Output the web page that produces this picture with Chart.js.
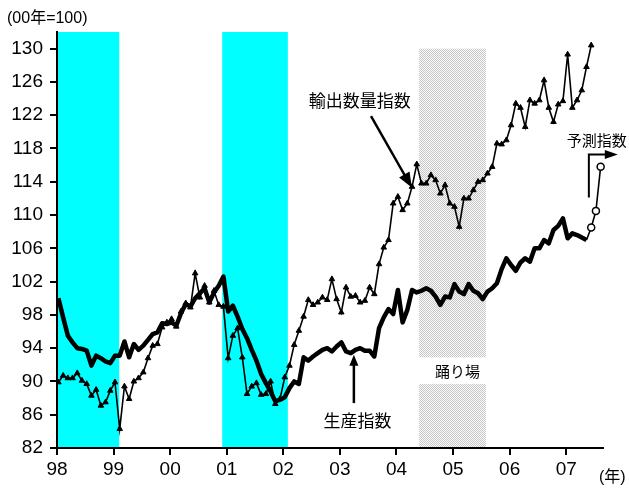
<!DOCTYPE html>
<html>
<head>
<meta charset="utf-8">
<script src="https://cdn.jsdelivr.net/npm/chart.js@4"></script>
<style>
  body { margin: 0; background: #fff; }
</style>
</head>
<body>
<canvas id="chart" width="629" height="489"></canvas>
<script>
// x axis: one tick per year, label is the two-digit year
const yearLabels = ['98', '99', '00', '01', '02', '03', '04', '05', '06', '07'];
const yTicks = [82, 86, 90, 94, 98, 102, 106, 110, 114, 118, 122, 126, 130];

// monthly, Jan 1998 onwards (00年=100)
const exportIndex = [
  89.9, 90.7, 90.4, 90.4, 91.0, 90.1, 89.7, 88.3, 89.0, 87.1, 87.5, 88.9,
  89.9, 84.3, 89.4, 87.9, 90.0, 90.4, 91.1, 92.8, 94.3, 94.5, 96.5, 97.1,
  97.5, 96.6, 98.4, 99.4, 98.9, 103.0, 100.1, 101.5, 99.5, 100.9, 99.2, 99.0,
  92.8, 95.5, 96.4, 92.9, 88.5, 89.4, 89.8, 88.4, 88.5, 90.0, 87.3, 87.9,
  90.5, 91.9, 94.4, 96.1, 97.8, 99.8, 99.2, 99.5, 100.1, 99.8, 102.3, 99.9,
  98.3, 101.3, 100.2, 100.3, 99.5, 99.7, 101.3, 100.5, 104.1, 106.1, 107.0, 111.4,
  112.2, 110.6, 111.4, 113.4, 116.1, 113.8, 113.8, 114.8, 114.2, 112.6, 113.6, 111.4,
  111.0, 108.6, 112.0, 112.0, 113.0, 114.0, 114.2, 115.0, 115.8, 118.6, 118.5, 119.0,
  120.8, 123.4, 122.9, 120.6, 123.8, 123.4, 123.8, 126.2, 122.9, 121.2, 123.3, 123.7,
  129.3, 122.9, 123.8, 125.0, 127.8, 130.4
];
const productionIndex = [
  100.0, 97.7, 95.5, 94.7, 94.0, 93.9, 93.7, 91.9, 93.1, 92.8, 92.4, 92.2,
  93.1, 93.1, 94.8, 92.9, 94.5, 93.8, 94.3, 95.0, 95.7, 95.9, 97.0, 96.9,
  97.1, 96.7, 98.2, 99.3, 99.0, 100.0, 100.6, 101.2, 99.5, 100.7, 101.5, 102.6,
  98.4, 99.1, 97.8, 96.3, 95.2, 93.8, 92.5, 90.9, 89.8, 88.8, 87.6, 87.8,
  88.1, 89.2, 90.0, 89.7, 92.9, 92.5, 93.0, 93.4, 93.8, 94.0, 93.6, 94.2,
  94.7, 93.6, 93.4, 93.8, 94.0, 93.7, 93.7, 93.0, 96.4, 97.7, 98.7, 98.1,
  101.0, 97.1, 98.6, 101.0, 100.7, 100.9, 101.2, 100.9, 100.2, 99.2, 100.2, 100.1,
  101.7, 100.8, 100.5, 101.7, 100.9, 100.6, 99.9, 100.8, 101.2, 101.8, 103.5, 104.8,
  104.0, 103.3, 104.3, 104.8, 104.4, 106.0, 106.0, 107.0, 106.6, 108.2, 108.7, 109.6,
  107.2, 107.8, 107.6, 107.3, 107.0
];
// 予測指数: the three months after the last production figure
const forecastIndex = [108.5, 110.5, 115.8];

// shaded periods, in years
const recessions = [[1998.0, 1999.1], [2000.92, 2002.08]];
const plateau = [2004.4, 2005.58];

function monthX(i) {
  return 1998 + (i + 0.3) / 12;
}

const lastProd = productionIndex.length - 1;
const forecastData = [{ x: monthX(lastProd), y: productionIndex[lastProd] }]
  .concat(forecastIndex.map((v, i) => ({ x: monthX(lastProd + 1 + i), y: v })));

const numFont = "'Liberation Sans', Arial, sans-serif";
const jpFont = "'Noto Sans CJK JP', sans-serif";

function makeDots() {
  const c = document.createElement('canvas');
  c.width = 2; c.height = 2;
  const g = c.getContext('2d');
  g.fillStyle = '#fbfbfb';
  g.fillRect(0, 0, 2, 2);
  g.fillStyle = '#c6c6c6';
  g.fillRect(0, 0, 1, 1);
  g.fillRect(1, 1, 1, 1);
  return c;
}

const shading = {
  id: 'shading',
  beforeDraw(chart) {
    const { ctx, chartArea: a, scales: { x, y } } = chart;
    ctx.save();
    ctx.fillStyle = '#00ffff';
    recessions.forEach(([s, e]) => {
      const x0 = x.getPixelForValue(s), x1 = x.getPixelForValue(e);
      ctx.fillRect(x0, a.top, x1 - x0, a.bottom - a.top);
    });
    ctx.fillStyle = ctx.createPattern(makeDots(), 'repeat');
    const p0 = x.getPixelForValue(plateau[0]), p1 = x.getPixelForValue(plateau[1]);
    const top = y.getPixelForValue(130), gapTop = y.getPixelForValue(92.9);
    const gapBot = y.getPixelForValue(89.7), bot = y.getPixelForValue(82);
    ctx.fillRect(p0, top, p1 - p0, gapTop - top);
    ctx.fillRect(p0, gapBot, p1 - p0, bot - gapBot);
    ctx.restore();
  }
};

function arrowHead(ctx, x0, y0, x1, y1, len, half) {
  const ang = Math.atan2(y1 - y0, x1 - x0);
  ctx.beginPath();
  ctx.moveTo(x1, y1);
  ctx.lineTo(x1 - len * Math.cos(ang) + half * Math.sin(ang), y1 - len * Math.sin(ang) - half * Math.cos(ang));
  ctx.lineTo(x1 - len * Math.cos(ang) - half * Math.sin(ang), y1 - len * Math.sin(ang) + half * Math.cos(ang));
  ctx.closePath();
  ctx.fill();
}

const notes = {
  id: 'notes',
  afterDraw(chart) {
    const { ctx, chartArea: a, scales: { x, y } } = chart;
    const px = v => x.getPixelForValue(v), py = v => y.getPixelForValue(v);
    ctx.save();
    ctx.fillStyle = '#000';
    ctx.strokeStyle = '#000';
    ctx.textBaseline = 'middle';

    ctx.font = '16px ' + numFont + ", 'Noto Sans CJK JP'";
    ctx.textAlign = 'left';
    ctx.fillText('(00年=100)', 7, 19);
    ctx.fillText('(年)', 599, 478);

    ctx.textAlign = 'center';
    ctx.font = '17px ' + jpFont;
    ctx.fillText('輸出数量指数', px(2003.35), py(123.8));
    ctx.fillText('生産指数', px(2003.31), py(85.3));
    ctx.font = '15px ' + jpFont;
    ctx.fillText('予測指数', px(2007.54), py(119.0));
    ctx.fillText('踊り場', px(2005.08), py(91.2));

    // 輸出数量指数 arrow
    let x0 = px(2003.55), y0 = py(121.9), x1 = px(2004.27), y1 = py(113.3);
    ctx.lineWidth = 2.5;
    ctx.beginPath(); ctx.moveTo(x0, y0); ctx.lineTo(x1 - (x1 - x0) * 0.12, y1 - (y1 - y0) * 0.12); ctx.stroke();
    arrowHead(ctx, x0, y0, x1, y1, 15, 6);

    // 生産指数 arrow
    x0 = px(2003.247); y0 = py(87.4); y1 = py(93.2);
    ctx.beginPath(); ctx.moveTo(x0, y0); ctx.lineTo(x0, y1 + 6); ctx.stroke();
    arrowHead(ctx, x0, y0, x0, y1, 11, 4.5);

    // 予測指数 arrow
    x0 = px(2007.4); y0 = py(112.1); y1 = py(117.27); x1 = px(2007.912);
    ctx.lineWidth = 2;
    ctx.beginPath(); ctx.moveTo(x0, y0); ctx.lineTo(x0, y1); ctx.lineTo(x1 - 8, y1); ctx.stroke();
    arrowHead(ctx, x0, y1, x1, y1, 13, 4.5);
    ctx.restore();
  }
};

const axisCommon = {
  grid: { drawOnChartArea: false, drawTicks: true, tickLength: 7, color: '#000', lineWidth: 2 },
  border: { display: true, color: '#000', width: 2 }
};

new Chart(document.getElementById('chart').getContext('2d'), {
  type: 'line',
  data: {
    datasets: [
      {
        label: '輸出数量指数',
        data: exportIndex.map((v, i) => ({ x: monthX(i), y: v })),
        borderColor: '#000',
        borderWidth: 1.6,
        pointStyle: 'triangle',
        pointRadius: 3.2,
        pointBackgroundColor: '#000',
        pointBorderColor: '#000',
        pointBorderWidth: 1,
        tension: 0,
      },
      {
        label: '生産指数',
        data: productionIndex.map((v, i) => ({ x: monthX(i), y: v })),
        borderColor: '#000',
        borderWidth: 4.5,
        borderJoinStyle: 'round',
        pointRadius: 0,
        tension: 0,
      },
      {
        label: '予測指数',
        data: forecastData,
        borderColor: '#000',
        borderWidth: 1.6,
        pointRadius: ctx => (ctx.dataIndex === 0 ? 0 : 3.5),
        pointBackgroundColor: '#fff',
        pointBorderColor: '#000',
        pointBorderWidth: 1.5,
        tension: 0,
        clip: false,
      },
    ],
  },
  options: {
    responsive: false,
    animation: false,
    layout: { padding: { top: 32, right: 26, left: 0, bottom: 0 } },
    plugins: { legend: { display: false }, tooltip: { enabled: false } },
    scales: {
      x: {
        type: 'linear',
        min: 1998,
        max: 2007.65,
        afterBuildTicks: s => { s.ticks = yearLabels.map((l, i) => ({ value: 1998 + i })); },
        afterFit: s => { s.height = 41; },
        ticks: {
          autoSkip: false,
          maxRotation: 0,
          padding: 3,
          color: '#000',
          font: { family: numFont, size: 19 },
          callback: v => yearLabels[Math.round(v - 1998)],
        },
        ...axisCommon,
      },
      y: {
        min: 82,
        max: 132,
        afterBuildTicks: s => { s.ticks = yTicks.map(v => ({ value: v })); },
        afterFit: s => { s.width = 57; },
        ticks: {
          padding: 7,
          color: '#000',
          font: { family: numFont, size: 19 },
        },
        ...axisCommon,
      },
    },
  },
  plugins: [shading, notes],
});
</script>
</body>
</html>
